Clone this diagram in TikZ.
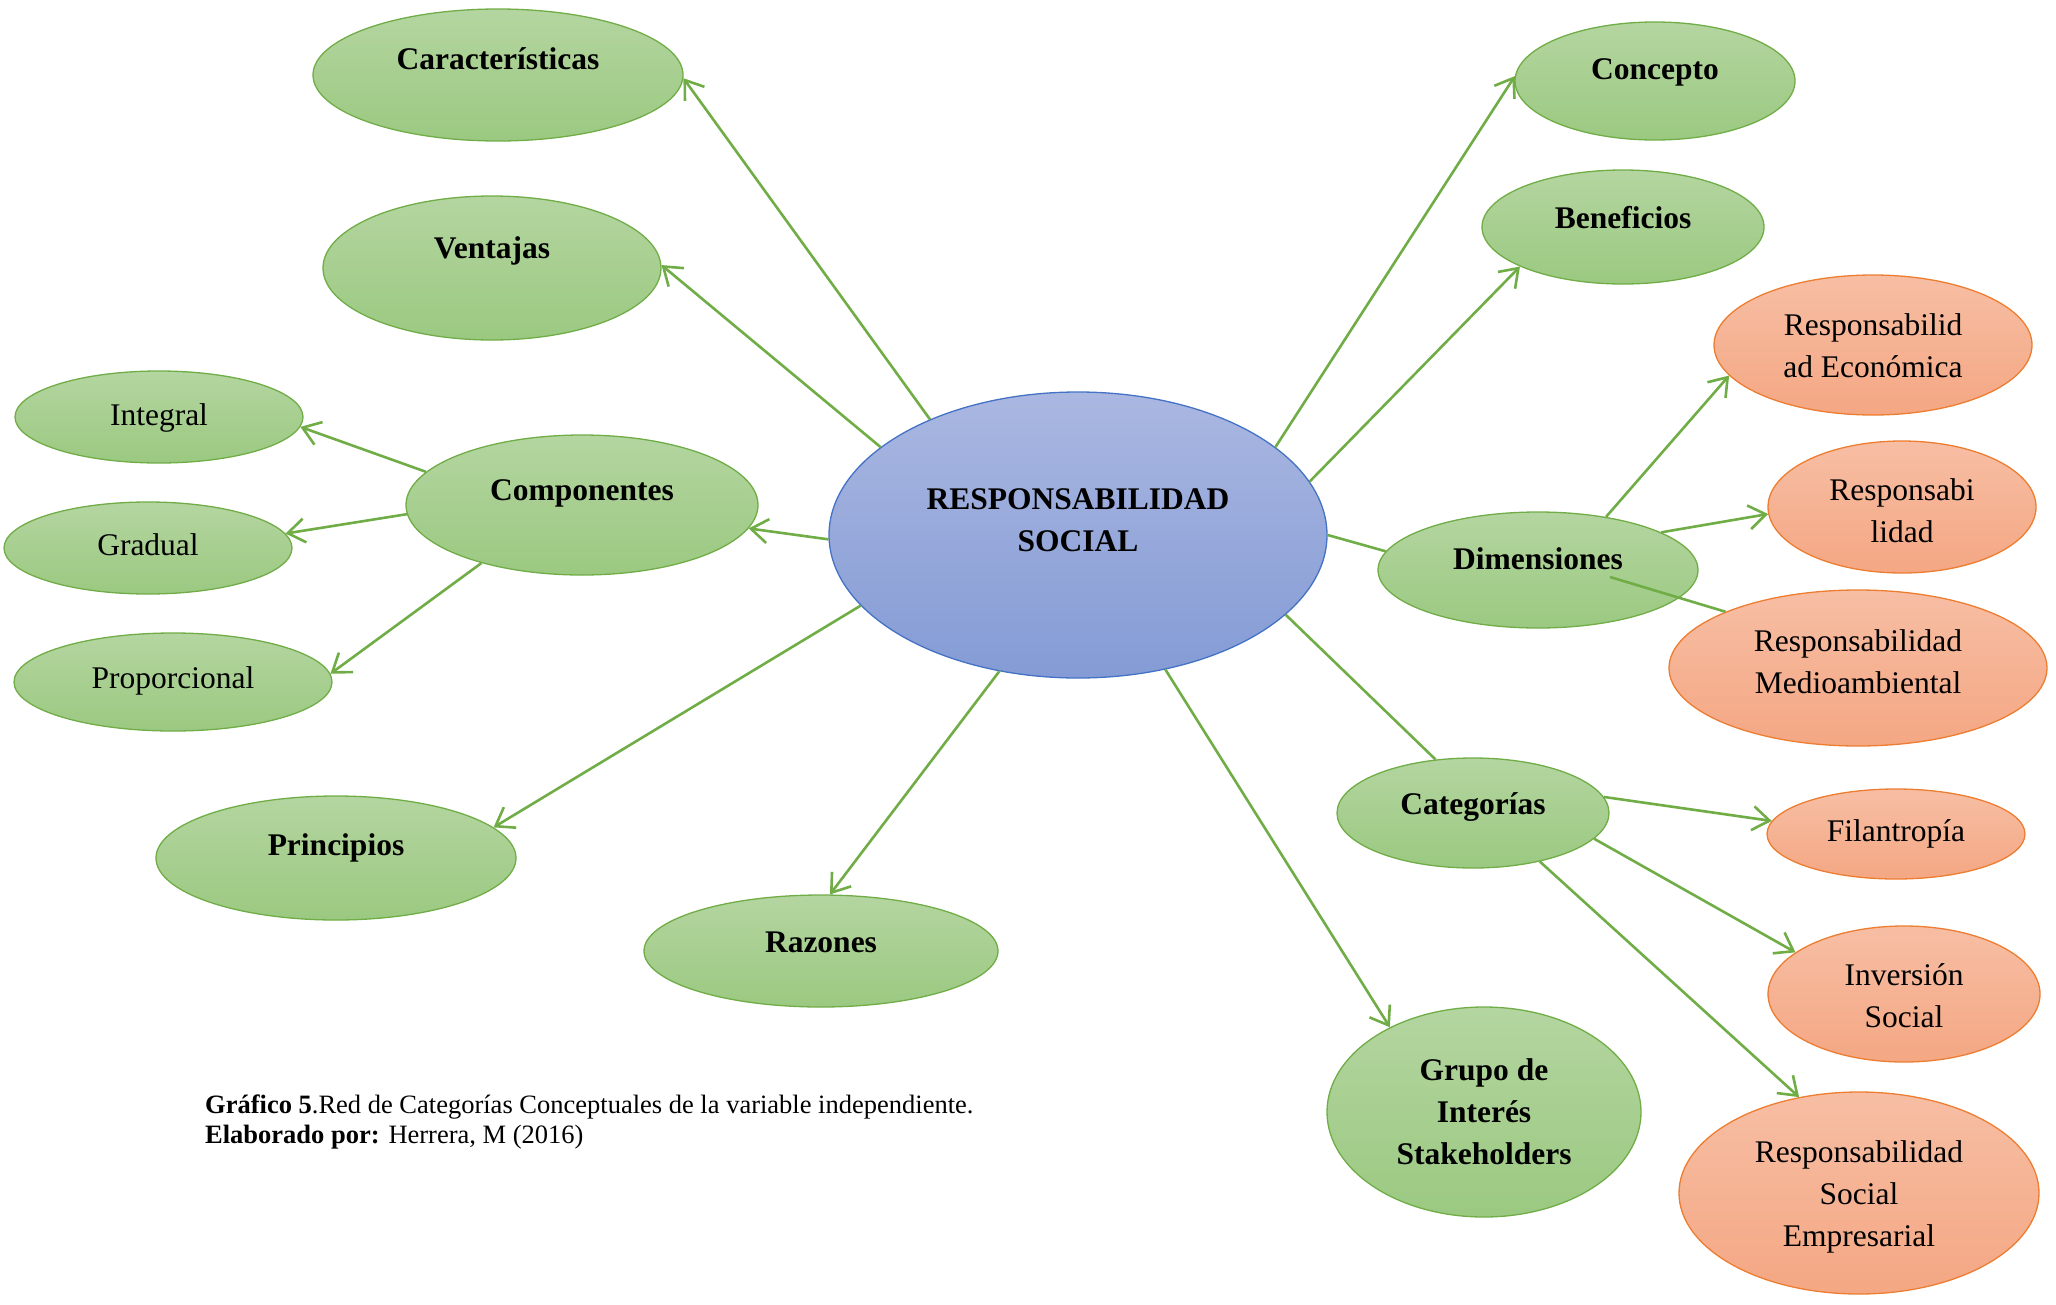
\documentclass[tikz,border=0pt]{standalone}
\usepackage{fontspec}
\setmainfont{Liberation Serif}
\usetikzlibrary{arrows.meta,shapes.geometric,calc}
\definecolor{gborder}{HTML}{70AD47}
\definecolor{gtop}{RGB}{180,213,160}
\definecolor{gbot}{RGB}{155,201,129}
\definecolor{oborder}{HTML}{ED7D31}
\definecolor{otop}{RGB}{247,190,164}
\definecolor{obot}{RGB}{244,167,131}
\definecolor{bborder}{HTML}{4472C4}
\definecolor{btop}{RGB}{170,183,225}
\definecolor{bbot}{RGB}{132,155,213}
\newcommand\nt[2]{\raisebox{\dimexpr#1pt+3pt\relax}[0pt][0pt]{\begin{tabular}{@{}c@{}}#2\end{tabular}}}
\tikzset{
  x=1pt, y=-1pt,
  ell/.style 2 args={ellipse, inner sep=0pt, line width=1.3pt,
    minimum width=#1pt, minimum height=#2pt,
    font=\fontsize{31.5}{42}\selectfont},
  gn/.style 2 args={ell={#1}{#2}, draw=gborder, top color=gtop, bottom color=gbot},
  gb/.style 2 args={gn={#1}{#2}, font=\fontsize{31.5}{42}\selectfont\bfseries},
  on/.style 2 args={ell={#1}{#2}, draw=oborder, top color=otop, bottom color=obot},
  lnk/.style={draw=gborder, line width=2.6pt},
  arw/.style={lnk, -{Straight Barb[length=17pt,width=24pt]}}
}
\begin{document}
\begin{tikzpicture}
\useasboundingbox (0,0) rectangle (2056,1304);
% central
\node[ell={498}{286}, draw=bborder, top color=btop, bottom color=bbot,
  font=\fontsize{31.5}{42}\selectfont\bfseries] (rs) at (1078,535)
  {\nt{4}{RESPONSABILIDAD\\SOCIAL}};
% left
\node[gb={370}{132}] (car) at (498,75) {\nt{5}{Características}};
\node[gb={338}{144}] (ven) at (492,268) {\nt{9}{Ventajas}};
\node[gn={288}{92}] (int) at (159,417) {\nt{-9}{Integral}};
\node[gb={352}{140}] (comp) at (582,505) {\nt{4}{Componentes}};
\node[gn={288}{92}] (grad) at (148,548) {\nt{-8}{Gradual}};
\node[gn={318}{98}] (prop) at (173,682) {\nt{-7}{Proporcional}};
\node[gb={360}{124}] (prin) at (336,858) {\nt{2}{Principios}};
\node[gb={354}{112}] (raz) at (821,951) {\nt{-2}{Razones}};
% right
\node[gb={280}{118}] (con) at (1655,81) {\nt{1}{Concepto}};
\node[gb={282}{114}] (ben) at (1623,227) {\nt{-2}{Beneficios}};
\node[on={318}{140}] (eco) at (1873,345) {\nt{-12}{Responsabilid\\ad Económica}};
\node[gb={320}{116}] (dim) at (1538,570) {\nt{0}{Dimensiones}};
\node[on={268}{132}] (lid) at (1902,507) {\nt{-15}{Responsabi\\lidad}};
\node[on={378}{156}] (med) at (1858,668) {\nt{-5}{Responsabilidad\\Medioambiental}};
\node[gb={272}{110}] (cat) at (1473,813) {\nt{-2}{Categorías}};
\node[on={258}{90}] (fil) at (1896,834) {\nt{-8}{Filantropía}};
\node[on={272}{136}] (inv) at (1904,994) {\nt{-13}{Inversión\\Social}};
\node[gb={314}{210}] (gru) at (1484,1112) {\nt{-11}{Grupo de\\Interés\\Stakeholders}};
\node[on={360}{202}] (rse) at (1859,1193) {\nt{-12}{Responsabilidad\\Social\\Empresarial}};
% caption
\node[anchor=west, align=left, inner sep=0pt, font=\fontsize{26.5}{30}\selectfont] (cap) at (205,1122)
  {\textbf{Gráfico 5}.Red de Categorías Conceptuales de la variable independiente.\\
   \textbf{Elaborado por:} Herrera, M (2016)};
% connectors
\draw[arw] (rs.142) -- (car.-1);
\draw[arw] (rs.156) -- (ven.1);
\draw[arw] (rs.181) -- (comp.-8);
\draw[arw] (rs.198) -- (prin.11);
\draw[arw] (rs.240) -- (raz.81);
\draw[arw] (rs.303) -- (gru.138);
\draw[lnk] (rs.-21) -- (cat.125);
\draw[lnk] (rs.0) -- (dim.173);
\draw[arw] (rs.13) -- (ben.201);
\draw[arw] (rs.24) -- (con.178);
\draw[arw] (comp.168) -- (int.-4);
\draw[arw] (comp.183) -- (grad.6);
\draw[arw] (comp.210) -- (prop.3);
\draw[arw] (dim.38) -- (eco.192);
\draw[arw] (dim.17) -- (lid.183);
\draw[lnk] ($(dim.center)+(72,7)$) -- (med.157);
\draw[arw] (cat.7) -- (fil.174);
\draw[arw] (cat.-12) -- (inv.159);
\draw[arw] (cat.-36) -- (rse.122);
\end{tikzpicture}
\end{document}
